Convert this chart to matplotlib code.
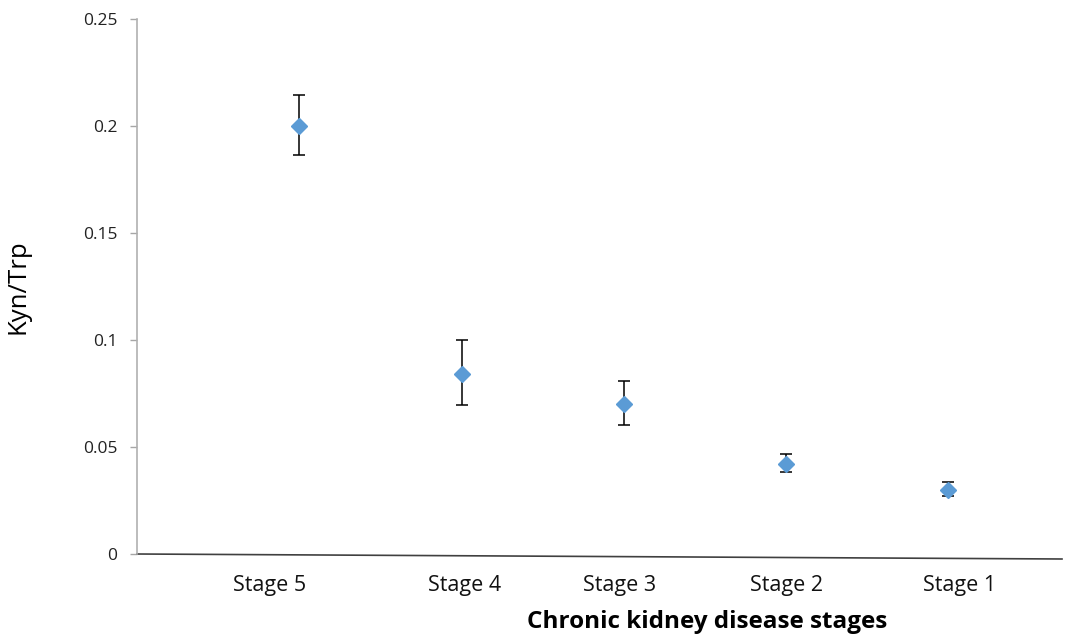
import matplotlib.pyplot as plt
import numpy as np

# Kyn/Trp ratio by CKD stage
stages = ['Stage 5', 'Stage 4', 'Stage 3', 'Stage 2', 'Stage 1']
kyn_trp = [0.200, 0.084, 0.070, 0.042, 0.030]
err_low = [0.0136, 0.0144, 0.0097, 0.0037, 0.0029]
err_high = [0.0145, 0.0160, 0.0107, 0.0047, 0.0036]
y_ticks = [0, 0.05, 0.1, 0.15, 0.2, 0.25]
y_tick_labels = ['0', '0.05', '0.1', '0.15', '0.2', '0.25']

# tick labels in the original sit slightly off the points
label_shift = [-0.185, 0.02, -0.025, 0.0, 0.07]

plt.rcParams['font.family'] = ['Open Sans', 'DejaVu Sans']

fig = plt.figure(figsize=(10.65, 6.38), dpi=100)
ax = fig.add_axes([137 / 1065, 1 - 554 / 638, 925 / 1065, 535 / 638])

x = np.arange(len(stages))
ax.errorbar(x, kyn_trp, yerr=[err_low, err_high], fmt='D', color='#5b9bd5',
            markersize=8, ecolor='black', elinewidth=1.1, capsize=4, capthick=1.1)

ax.set_xlim(-1.0, 4.7)
ax.set_ylim(0, 0.25)
ax.set_yticks(y_ticks)
ax.set_yticklabels(y_tick_labels, fontsize=12.5, color='#222222')
ax.tick_params(axis='y', direction='out', length=5, color='#a6a6a6', width=1, pad=9)

ax.set_xticks(x + np.array(label_shift))
ax.set_xticklabels(stages, fontsize=15.5, color='#111111')
ax.tick_params(axis='x', length=0, pad=15)

for s in ['top', 'right', 'bottom']:
    ax.spines[s].set_visible(False)
ax.spines['left'].set_color('#b0b0b0')
ax.spines['left'].set_linewidth(1.2)

# the bottom axis line is slightly tilted in the original
ax.plot([0, 1], [0, -5 / 535], transform=ax.transAxes, color='#404040',
        linewidth=1.2, clip_on=False)

ax.set_ylabel('Kyn/Trp', fontsize=18.5, labelpad=38)
ax.set_xlabel('Chronic kidney disease stages', fontsize=17.5, fontweight='bold')
ax.xaxis.set_label_coords(570 / 925, -0.104)

fig.savefig('out.png', dpi=100)
